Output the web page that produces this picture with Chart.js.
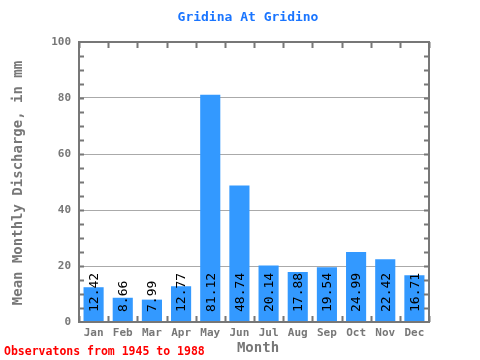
<!DOCTYPE html>
<html>
<head>
<meta charset="utf-8">
<script src="https://cdn.jsdelivr.net/npm/chart.js@4.4.0/dist/chart.umd.min.js"></script>
<style>
  html, body { margin: 0; padding: 0; background: #fff; }
  #wrap { width: 480px; height: 360px; }
</style>
</head>
<body>
<div id="wrap"><canvas id="chart" width="480" height="360"></canvas></div>
<script>
const months = ['Jan', 'Feb', 'Mar', 'Apr', 'May', 'Jun', 'Jul', 'Aug', 'Sep', 'Oct', 'Nov', 'Dec'];
const discharge = [12.42, 8.66, 7.99, 12.77, 81.12, 48.74, 20.14, 17.88, 19.54, 24.99, 22.42, 16.71];
const yTicks = [0, 20, 40, 60, 80, 100];

const titleText = 'Gridina At Gridino';
const yTitle = 'Mean Monthly Discharge, in mm';
const xTitle = 'Month';
const footnote = 'Observatons from 1945 to 1988';

const MONO = '"DejaVu Sans Mono", "Liberation Mono", monospace';
const AXIS_GREY = '#777777';

const framePlugin = {
  id: 'frame',
  afterDatasetsDraw(chart) {
    const { ctx, chartArea: a, scales } = chart;
    const x = scales.x, y = scales.y;
    ctx.save();
    ctx.strokeStyle = AXIS_GREY;
    ctx.lineWidth = 2;
    ctx.strokeRect(a.left, a.top, a.right - a.left, a.bottom - a.top);
    ctx.beginPath();
    // minor ticks on left / right every 5
    for (let v = 5; v < 100; v += 5) {
      const py = Math.round(y.getPixelForValue(v)) + 0.5;
      ctx.moveTo(a.left, py); ctx.lineTo(a.left + 5, py);
      ctx.moveTo(a.right, py); ctx.lineTo(a.right - 5, py);
    }
    // category boundaries on top / bottom
    for (let i = 0; i <= months.length; i++) {
      const px = Math.round(a.left + (a.right - a.left) * i / months.length) + 0.5;
      ctx.moveTo(px, a.top); ctx.lineTo(px, a.top + 6);
      ctx.moveTo(px, a.bottom); ctx.lineTo(px, a.bottom - 6);
    }
    ctx.stroke();

    // value labels, rotated, inside bars
    ctx.fillStyle = '#000';
    ctx.font = '13px ' + MONO;
    ctx.textAlign = 'left';
    ctx.textBaseline = 'middle';
    const base = y.getPixelForValue(0) - 10;
    discharge.forEach((v, i) => {
      const px = x.getPixelForValue(i);
      ctx.save();
      ctx.translate(px + 1, base);
      ctx.rotate(-Math.PI / 2);
      ctx.fillText(v.toFixed(2), 0, 0);
      ctx.restore();
    });

    // titles
    ctx.textAlign = 'center';
    ctx.fillStyle = '#1a75ff';
    ctx.font = 'bold 13px ' + MONO;
    ctx.fillText(titleText, 248, 18);

    ctx.fillStyle = AXIS_GREY;
    ctx.font = 'bold 14px ' + MONO;
    ctx.fillText(xTitle, 258, 348);

    ctx.save();
    ctx.translate(18, 183);
    ctx.rotate(-Math.PI / 2);
    ctx.font = 'bold 14px ' + MONO;
    ctx.fillText(yTitle, 0, 0);
    ctx.restore();

    ctx.textAlign = 'left';
    ctx.fillStyle = '#ff0000';
    ctx.font = 'bold 11.5px ' + MONO;
    ctx.fillText(footnote, 4, 352);
    ctx.restore();
  }
};

new Chart(document.getElementById('chart'), {
  type: 'bar',
  data: {
    labels: months,
    datasets: [{
      data: discharge,
      backgroundColor: '#3399ff',
      borderWidth: 0,
      barPercentage: 0.69,
      categoryPercentage: 1.0,
    }],
  },
  options: {
    responsive: false,
    animation: false,
    layout: { padding: { top: 42, right: 51, left: 0, bottom: 0 } },
    plugins: {
      legend: { display: false },
      tooltip: { enabled: false },
    },
    scales: {
      x: {
        grid: { display: false, drawTicks: false },
        border: { display: false },
        ticks: { color: AXIS_GREY, font: { family: MONO, size: 11, weight: 'bold' }, padding: 5 },
        afterFit(scale) { scale.height = 38; },
      },
      y: {
        min: 0,
        max: 100,
        afterBuildTicks(scale) { scale.ticks = yTicks.map((v) => ({ value: v })); },
        grid: {
          color: (c) => (c.tick && c.tick.value > 0 && c.tick.value < 100 ? '#aaaaaa' : 'rgba(0,0,0,0)'),
          lineWidth: 1,
          drawTicks: false,
        },
        border: { display: false },
        ticks: { color: AXIS_GREY, font: { family: MONO, size: 11, weight: 'bold' }, padding: 8 },
        afterFit(scale) { scale.width = 79; },
      },
    },
  },
  plugins: [framePlugin],
});
</script>
</body>
</html>
